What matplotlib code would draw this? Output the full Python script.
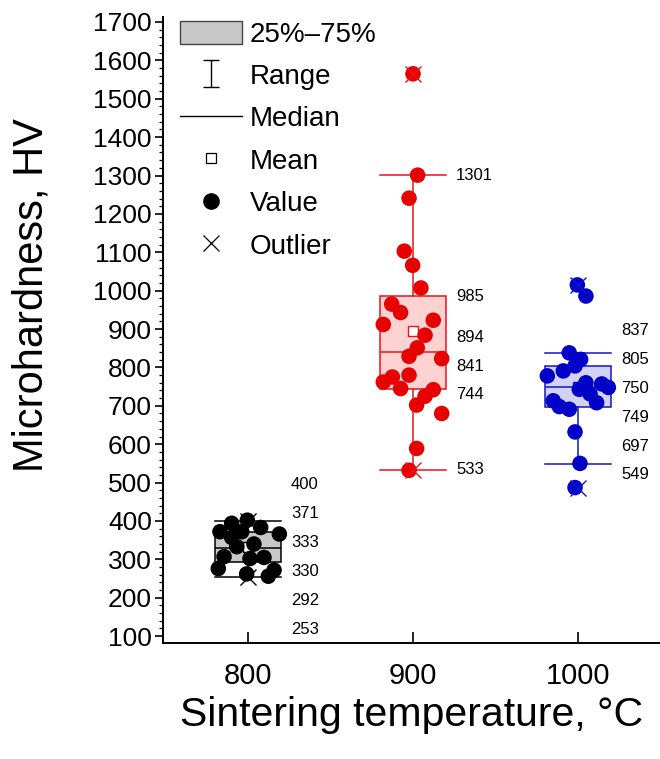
import matplotlib
matplotlib.use('Agg')
import matplotlib.pyplot as plt
import numpy as np
from matplotlib.patches import Patch
from matplotlib.lines import Line2D
from matplotlib.ticker import MultipleLocator

plt.rcParams['font.family'] = ['Liberation Sans', 'DejaVu Sans']

temps = [800, 900, 1000]

# summary values printed next to each box (top to bottom)
whisk_hi = [400, 1301, 837]
q3 = [371, 985, 805]
means = [333, 894, 750]
medians = [330, 841, 749]
q1 = [292, 744, 697]
whisk_lo = [253, 533, 549]
outliers = [[400, 253], [1565, 533], [1015, 487]]

# individual measurements and their horizontal jitter (in °C)
vals_800 = [394, 402, 383, 372, 366, 357, 372, 333, 340, 307, 302, 305, 276, 262, 256, 272]
jit_800 = [-9.9, -0.4, 7.7, -17, 19, -9.9, -3.8, -6.8, 3.6, -14.5, 1.2, 9.7, -18, -0.8, 12.3, 15.8]
vals_900 = [1301, 1241, 1103, 1066, 1007, 965, 943, 912, 923, 884, 851, 829, 823,
            780, 775, 762, 745, 742, 725, 702, 680, 589, 532, 1565]
jit_900 = [2.8, -2.4, -5.3, -0.2, 4.8, -12.9, -7.5, -18, 12.3, 7.3, 2.6, -2.4, 17.4,
           -2.4, -12.5, -18, -7.5, 12.3, 7.3, 2.2, 17.4, 2.2, -2.4, 0]
vals_1000 = [1015, 986, 838, 821, 804, 791, 778, 760, 757, 748, 743, 731, 713, 698, 691, 708, 632, 550, 487]
jit_1000 = [-0.4, 4.8, -5.3, 1.6, -1.8, -8.9, -18.6, 4.8, 14.4, 18.4, 0.8, 7.3, -15, -11.3, -5.3, 11.3, -1.8, 1.2, -1.8]

values = [vals_800, vals_900, vals_1000]
jitter = [jit_800, jit_900, jit_1000]

edge_cols = ['black', '#E8141A', '#1414C8']
fill_cols = ['#C8C8C8', '#FFD2D2', '#D2D2F5']
dot_cols = ['black', '#E60000', '#0000C8']

fig = plt.figure(figsize=(6.6, 7.59), dpi=100)
ax = fig.add_axes([0.247, 0.1528, 0.753, 0.8243])


def spread(labs, gap):
    # place labels at their values, pushing overlapping ones apart
    clusters = [[v] for v in labs]

    def pos(cl):
        n = len(cl)
        c0 = np.mean(cl) - (0.3 * gap if n > 1 else 0)
        return [c0 + gap * ((n - 1) / 2 - k) for k in range(n)]

    merged = True
    while merged:
        merged = False
        for k in range(len(clusters) - 1):
            if pos(clusters[k])[-1] - pos(clusters[k + 1])[0] < gap:
                clusters[k] = clusters[k] + clusters[k + 1]
                del clusters[k + 1]
                merged = True
                break
    return [y for cl in clusters for y in pos(cl)]


box_w = 40
for i, t in enumerate(temps):
    st = [dict(med=medians[i], q1=q1[i], q3=q3[i], whislo=whisk_lo[i], whishi=whisk_hi[i],
               mean=means[i], fliers=outliers[i])]
    c = edge_cols[i]
    ax.bxp(st, positions=[t], widths=box_w, capwidths=box_w, patch_artist=True,
           showmeans=True, manage_ticks=False,
           boxprops=dict(facecolor=fill_cols[i], edgecolor=c, linewidth=1.1),
           medianprops=dict(color=c, linewidth=1.1),
           whiskerprops=dict(color=c, linewidth=1.1),
           capprops=dict(color=c, linewidth=1.1),
           meanprops=dict(marker='s', markerfacecolor='white', markeredgecolor=c,
                          markersize=7, markeredgewidth=1.0),
           flierprops=dict(marker='x', markeredgecolor=c, markersize=11,
                           markeredgewidth=1.0, zorder=4))
    ax.scatter(np.array(jitter[i]) + t, values[i], s=125, color=dot_cols[i],
               edgecolors='none', zorder=3)

    labs = [whisk_hi[i], q3[i], means[i], medians[i], q1[i], whisk_lo[i]]
    for v, y in zip(labs, spread(labs, 75.5)):
        ax.text(t + 26, y, str(v), fontsize=12, va='center', ha='left')

ax.set_xlim(748.5, 1049.7)
ax.set_ylim(82, 1712)
ax.set_xticks(temps)
ax.set_yticks(np.arange(100, 1701, 100))
ax.yaxis.set_minor_locator(MultipleLocator(20))
ax.tick_params(axis='x', direction='in', length=8, width=1.2, labelsize=21, pad=14)
ax.tick_params(axis='y', which='major', direction='out', length=6, width=1.2, labelsize=19, pad=2)
ax.tick_params(axis='y', which='minor', direction='out', length=3, width=0.9)
for s in ['top', 'right']:
    ax.spines[s].set_visible(False)
for s in ['left', 'bottom']:
    ax.spines[s].set_linewidth(1.4)

ax.set_xlabel('Sintering temperature, °C', fontsize=29.5, labelpad=4)
ax.set_ylabel('Microhardness, HV', fontsize=30)
ax.yaxis.set_label_coords(-0.225, 0.556)

eb = ax.errorbar([np.nan], [np.nan], yerr=[1], fmt='none', ecolor='black',
                 elinewidth=1.0, capsize=6, capthick=1.0)
handles = [Patch(facecolor='#C8C8C8', edgecolor='#444444', linewidth=1.0),
           eb,
           Line2D([], [], color='black', linewidth=1.0),
           Line2D([], [], linestyle='none', marker='s', markerfacecolor='white',
                  markeredgecolor='black', markersize=7, markeredgewidth=0.9),
           Line2D([], [], linestyle='none', marker='o', color='black', markersize=11),
           Line2D([], [], linestyle='none', marker='x', color='black', markersize=11,
                  markeredgewidth=0.9)]
labels = ['25%–75%', 'Range', 'Median', 'Mean', 'Value', 'Outlier']
ax.legend(handles, labels, loc='upper left', bbox_to_anchor=(0.035, 0.995), frameon=False,
          fontsize=20, handlelength=2.2, handleheight=0.9, handletextpad=0.3,
          labelspacing=0.55, borderpad=0, borderaxespad=0)

fig.savefig('out.png', dpi=100)
